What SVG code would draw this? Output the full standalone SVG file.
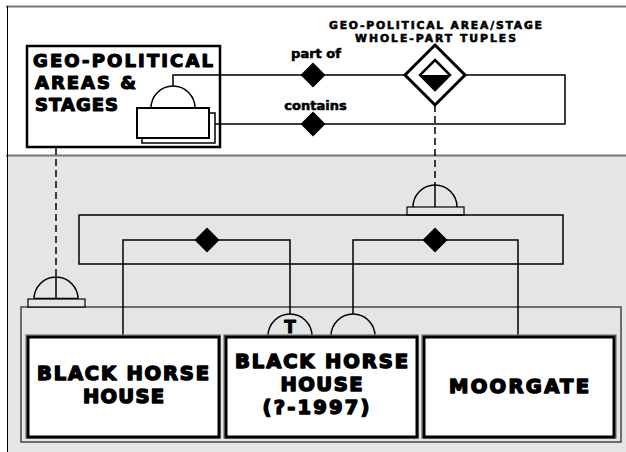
<svg xmlns="http://www.w3.org/2000/svg" width="626" height="452" viewBox="0 0 626 452">
  <style>
    .t { font-family: "DejaVu Sans", "Liberation Sans", sans-serif; font-weight: bold; fill: #000; stroke: #000; stroke-linejoin: round; }
    .big { font-size: 19.5px; stroke-width: 1.5; }
    .mid { font-size: 18px; stroke-width: 1.2; }
    .sm { font-size: 13px; stroke-width: 0.6; }
    .xs { font-size: 10.8px; stroke-width: 0.6; }
    .ln { fill: none; stroke: #000; stroke-width: 1.5; }
    .dash { stroke-dasharray: 7 4; }
    .dia { fill: #000; stroke: none; }
    .box { fill: #fff; stroke: #000; stroke-width: 3; }
    .shadow { fill: none; stroke: #888; stroke-width: 1.5; }
    .bar { fill: #e5e5e5; stroke: #000; stroke-width: 1.2; }
  </style>

  <!-- background frame -->
  <rect x="0" y="0" width="626" height="452" fill="#fff"/>
  <rect x="7" y="156" width="619" height="296" fill="#e5e5e5"/>
  <line x1="6" y1="6.5" x2="626" y2="6.5" stroke="#777" stroke-width="2"/>
  <line x1="6" y1="155.5" x2="626" y2="155.5" stroke="#777" stroke-width="2"/>
  <line x1="7.5" y1="6" x2="7.5" y2="452" stroke="#000" stroke-width="1"/>

  <!-- area / stage type -->
  <g id="area-type">
    <rect x="27" y="46" width="193" height="101" fill="#fff" stroke="#000" stroke-width="2.5"/>
    <text class="t mid" x="33" y="67" textLength="180">GEO-POLITICAL</text>
    <text class="t mid" x="35" y="89" textLength="101">AREAS &amp;</text>
    <text class="t mid" x="35" y="111" textLength="83">STAGES</text>
    <path class="ln" d="M151,108 A22,22 0 0 1 195,108"/>
    <rect x="142" y="113" width="73" height="30" fill="#fff" stroke="#000" stroke-width="1.5"/>
    <rect x="137" y="108" width="72" height="30" fill="#fff" stroke="#000" stroke-width="2"/>
  </g>

  <!-- container of the instances -->
  <g id="container">
    <rect x="21" y="307" width="600" height="135" fill="none" stroke="#444" stroke-width="1.5"/>
  </g>

  <!-- connectors -->
  <g id="connectors">
    <!-- whole-part loop on the type box -->
    <path class="ln" d="M173,86 V75 H565 V124 H215"/>
    <polygon class="dia" points="313,62.5 325.5,75 313,87.5 300.5,75"/>
    <polygon class="dia" points="313,111.5 325.5,124 313,136.5 300.5,124"/>
    <text class="t sm" x="316" y="58" text-anchor="middle">part of</text>
    <text class="t sm" x="315.5" y="110" text-anchor="middle">contains</text>

    <!-- type link from the area box down to the container -->
    <line class="ln dash" x1="56" y1="148" x2="56" y2="277"/>
    <line class="ln" x1="56" y1="277" x2="56" y2="299"/>
    <path class="ln" d="M34,299 A22,22 0 0 1 78,299"/>
    <line x1="34" y1="299" x2="78" y2="299" stroke="#000" stroke-width="2.5"/>
    <rect class="bar" x="28" y="299" width="57" height="8"/>

    <!-- type link from the tuple type down to the tuple loop -->
    <line class="ln dash" x1="435" y1="105" x2="435" y2="185"/>
    <line class="ln" x1="435" y1="185" x2="435" y2="207"/>
    <path class="ln" d="M413,207 A22,22 0 0 1 457,207"/>
    <rect class="bar" x="407" y="207" width="57" height="8"/>
    <rect class="ln" x="79" y="215" width="484" height="49"/>

    <!-- left whole-part tuple -->
    <path class="ln" d="M123,336 V240 H290 V314"/>
    <polygon class="dia" points="207,227.5 219.5,240 207,252.5 194.5,240"/>
    <!-- right whole-part tuple -->
    <path class="ln" d="M353,314 V240 H518 V336"/>
    <polygon class="dia" points="435,227.5 447.5,240 435,252.5 422.5,240"/>

    <!-- tuple end caps on the middle box -->
    <path class="ln" d="M268,336 A22,22 0 0 1 312,336"/>
    <text class="t" x="290" y="333" font-size="17" stroke-width="0.9" text-anchor="middle">T</text>
    <path class="ln" d="M331,336 A22,22 0 0 1 375,336"/>
  </g>

  <!-- tuple type -->
  <g id="tuple-type">
    <text class="t xs" x="435.5" y="29" text-anchor="middle" textLength="213">GEO-POLITICAL AREA/STAGE</text>
    <text class="t xs" x="435.5" y="42" text-anchor="middle" textLength="161">WHOLE-PART TUPLES</text>
    <polygon points="435,45 465,75 435,105 405,75" fill="#fff" stroke="#000" stroke-width="3"/>
    <polygon points="435,60 450,75 435,90 420,75" fill="#fff" stroke="#000" stroke-width="2.5"/>
    <polygon points="420,75 450,75 435,90" fill="#000"/>
  </g>

  <g id="black-horse-house">
    <rect class="shadow" x="26" y="335" width="194" height="103"/>
    <rect class="box" x="28" y="337" width="191" height="100"/>
    <text class="t big" x="123" y="380" text-anchor="middle" textLength="172">BLACK HORSE</text>
    <text class="t big" x="123.5" y="403" text-anchor="middle" textLength="81">HOUSE</text>
  </g>

  <g id="black-horse-house-1997">
    <rect class="shadow" x="224" y="335" width="194" height="103"/>
    <rect class="box" x="226" y="337" width="191" height="100"/>
    <text class="t big" x="321.5" y="368" text-anchor="middle" textLength="173">BLACK HORSE</text>
    <text class="t big" x="321.5" y="391" text-anchor="middle" textLength="82">HOUSE</text>
    <text class="t big" x="316" y="414" text-anchor="middle" textLength="107">(?-1997)</text>
  </g>

  <g id="moorgate">
    <rect class="shadow" x="422" y="335" width="194" height="103"/>
    <rect class="box" x="424" y="337" width="190" height="100"/>
    <text class="t big" x="519" y="393" text-anchor="middle" textLength="140">MOORGATE</text>
  </g>
</svg>
